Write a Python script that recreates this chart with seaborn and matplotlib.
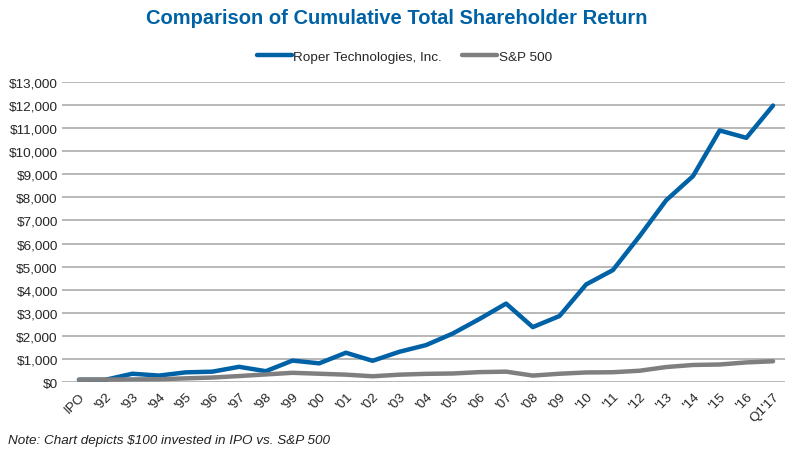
import pandas as pd
import numpy as np
import matplotlib
matplotlib.use("Agg")
import matplotlib.pyplot as plt
import seaborn as sns
from matplotlib.ticker import FuncFormatter

# --- データ ---
periods = ["IPO", "'92", "'93", "'94", "'95", "'96", "'97", "'98", "'99", "'00",
           "'01", "'02", "'03", "'04", "'05", "'06", "'07", "'08", "'09", "'10",
           "'11", "'12", "'13", "'14", "'15", "'16", "Q1'17"]
roper = [100, 100, 360, 280, 420, 450, 660, 470, 930, 810,
         1270, 920, 1310, 1600, 2100, 2730, 3400, 2380, 2860, 4230,
         4850, 6320, 7880, 8920, 10900, 10580, 11980]
sp500 = [100, 105, 115, 120, 160, 195, 260, 330, 400, 360,
         320, 250, 320, 355, 370, 430, 450, 280, 360, 415,
         425, 490, 650, 740, 760, 850, 900]

series_names = ["Roper Technologies, Inc.", "S&P 500"]
colors = {"Roper Technologies, Inc.": "#0062A6", "S&P 500": "#7F7F7F"}

df = pd.DataFrame({"period": periods, "idx": np.arange(len(periods)),
                   series_names[0]: roper, series_names[1]: sp500})
df_long = df.melt(id_vars=["period", "idx"], value_vars=series_names,
                  var_name="series", value_name="value")

sns.set_theme(style="white")
plt.rcParams['font.family'] = ['Liberation Sans', 'DejaVu Sans']

fig = plt.figure(figsize=(7.93, 4.56), dpi=100)
ax = fig.add_axes([0.078, 0.16, 0.912, 0.658])

# 横グリッド
for v in range(0, 14000, 1000):
    ax.axhline(v, color="#ABABAB", lw=1.2, zorder=0)

sns.lineplot(data=df_long, x="idx", y="value", hue="series", hue_order=series_names,
             palette=colors, linewidth=3.2, ax=ax, legend=False, zorder=3)

ax.set_xlim(-0.64, 26.45)
ax.set_ylim(0, 13000)
ax.set_yticks(range(0, 14000, 1000))
ax.yaxis.set_major_formatter(FuncFormatter(lambda v, p: f"${v:,.0f}"))
ax.set_xticks(df["idx"])
ax.set_xticklabels(periods, rotation=45, ha="right", rotation_mode="anchor")
ax.tick_params(axis="both", labelsize=9.7, length=0, pad=3)
ax.tick_params(axis="x", pad=6)
ax.set_xlabel("")
ax.set_ylabel("")
for s in ax.spines.values():
    s.set_visible(False)

# タイトル・凡例・注記
fig.text(0.5, 0.96, "Comparison of Cumulative Total Shareholder Return",
         ha="center", va="center", fontsize=14.5, fontweight="bold", color="#0062A6")
handles = [plt.Line2D([], [], color=colors[n], lw=3.2) for n in series_names]
fig.legend(handles, series_names, loc="center", bbox_to_anchor=(0.51, 0.873),
           ncol=2, frameon=False, fontsize=9.7, handlelength=2.6, handletextpad=0.1,
           columnspacing=1.5)
fig.text(0.01, 0.033, "Note: Chart depicts $100 invested in IPO vs. S&P 500",
         ha="left", va="center", fontsize=9.7, style="italic", color="#222222")

fig.savefig("out.png", dpi=100)
